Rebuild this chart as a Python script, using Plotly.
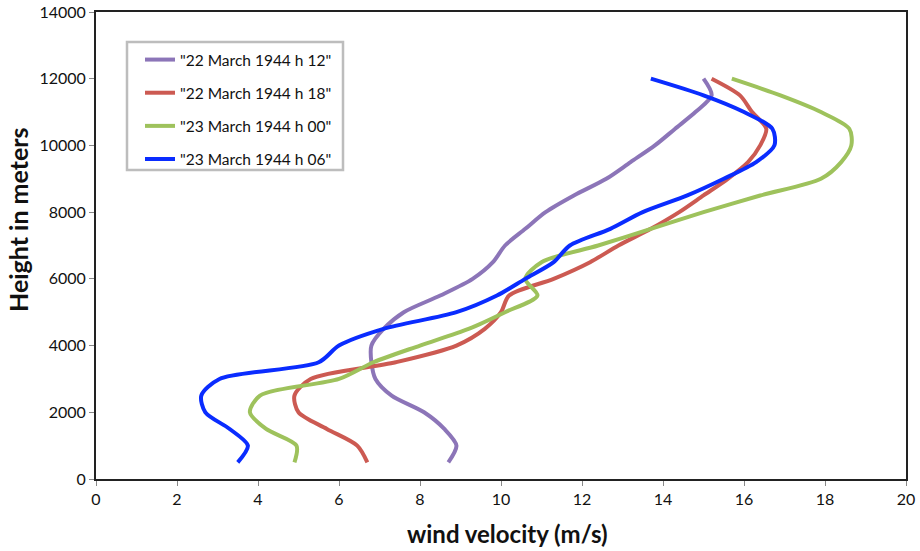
import plotly.graph_objects as go

heights = [500, 1000, 1500, 2000, 2500, 3000, 3500, 4000, 4500, 5000, 5500, 6000,
           6500, 7000, 7500, 8000, 8500, 9000, 9500, 10000, 10500, 11000, 11500, 12000]

v_22_12 = [8.7, 8.9, 8.6, 8.1, 7.3, 6.9, 6.8, 6.8, 7.1, 7.6, 8.5, 9.3,
           9.8, 10.1, 10.6, 11.1, 11.8, 12.6, 13.2, 13.8, 14.3, 14.8, 15.2, 15.0]
v_22_18 = [6.7, 6.45, 5.7, 5.0, 4.9, 5.3, 7.4, 8.9, 9.6, 10.0, 10.2, 11.3,
           12.2, 12.9, 13.7, 14.4, 15.0, 15.6, 16.1, 16.4, 16.55, 16.2, 15.9, 15.2]
v_23_00 = [4.9, 4.95, 4.2, 3.8, 4.05, 6.0, 6.85, 8.0, 9.2, 10.1, 10.9, 10.6,
           11.0, 12.4, 13.7, 15.0, 16.4, 17.9, 18.4, 18.65, 18.6, 17.9, 16.9, 15.7]
v_23_06 = [3.5, 3.75, 3.3, 2.7, 2.6, 3.05, 5.5, 6.0, 7.1, 8.9, 9.9, 10.6,
           11.3, 11.7, 12.7, 13.5, 14.6, 15.5, 16.3, 16.75, 16.7, 16.0, 15.0, 13.7]

x_ticks = list(range(0, 21, 2))
y_ticks = list(range(0, 14001, 2000))

series = [
    ('"22 March 1944 h 12"', v_22_12, "#8C75B8"),
    ('"22 March 1944 h 18"', v_22_18, "#CC5A52"),
    ('"23 March 1944 h 00"', v_23_00, "#9EC25C"),
    ('"23 March 1944 h 06"', v_23_06, "#0A2CFF"),
]

fig = go.Figure()
for i, (name, vals, col) in enumerate(series):
    fig.add_trace(go.Scatter(
        x=vals, y=heights, mode="lines", name=name,
        line=dict(color=col, width=4, shape="spline", smoothing=0.8),
        legendgroup=f"g{i}",
    ))

font_family = "Lato, 'Open Sans', sans-serif"

L, R, T, B = 96, 906, 12, 479
def px_x(p): return (p - L) / (R - L)
def px_y(p): return (B - p) / (B - T)

# legend frame
fig.add_shape(type="rect", xref="paper", yref="paper",
              x0=px_x(127), x1=px_x(343), y0=px_y(170), y1=px_y(42),
              line=dict(color="#BDBDBD", width=2.5), fillcolor="white", layer="below")

# axis titles
fig.add_annotation(text="<b>wind velocity (m/s)</b>", xref="paper", yref="paper",
                   x=px_x(507), y=px_y(533), xanchor="center", yanchor="middle",
                   showarrow=False,
                   font=dict(size=24, family=font_family, color="#111"))
fig.add_annotation(text="<b>Height in meters</b>", xref="paper", yref="paper",
                   x=px_x(18), y=px_y(220), xanchor="center", yanchor="middle",
                   showarrow=False, textangle=-90,
                   font=dict(size=25, family=font_family, color="#111"))

fig.update_layout(
    width=920, height=551,
    margin=dict(l=L, r=920 - R, t=T, b=551 - B),
    paper_bgcolor="white", plot_bgcolor="white",
    font=dict(family=font_family, color="#111", size=16),
    showlegend=True,
    legend=dict(
        x=px_x(140), y=px_y(43), xanchor="left", yanchor="top",
        bgcolor="rgba(0,0,0,0)", borderwidth=0,
        font=dict(size=15.5, family=font_family, color="#111"),
        tracegroupgap=10,
    ),
    xaxis=dict(
        range=[0, 20], tickvals=x_ticks, ticktext=[str(v) for v in x_ticks],
        showgrid=False, zeroline=False, automargin=False,
        showline=True, linecolor="#222", linewidth=2, mirror=True,
        ticks="outside", ticklen=5, tickcolor="#888",
    ),
    yaxis=dict(
        range=[0, 14000], tickvals=y_ticks, ticktext=[str(v) for v in y_ticks],
        showgrid=False, zeroline=False, automargin=False,
        showline=True, linecolor="#222", linewidth=2, mirror=True,
        ticks="outside", ticklen=5, tickcolor="#888",
    ),
)

fig.write_html("out.html")
